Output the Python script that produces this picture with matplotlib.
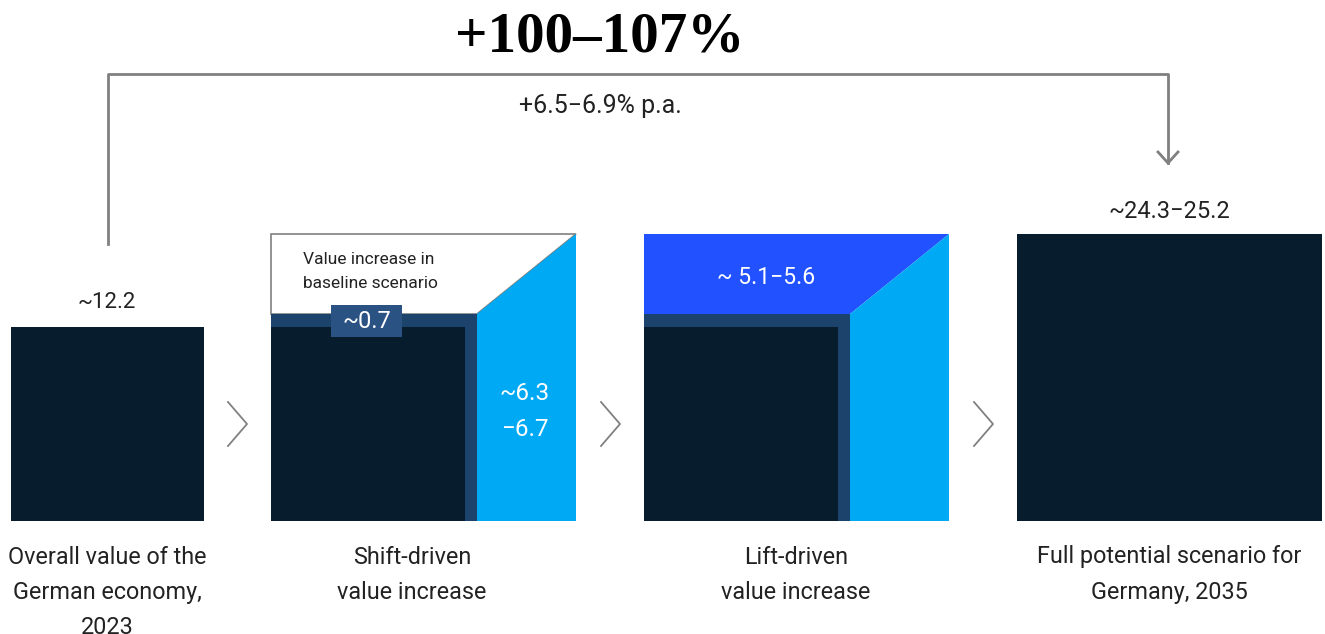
import matplotlib.pyplot as plt
from matplotlib.patches import Rectangle, Polygon

# chart content
value_labels = ['~12.2', '~0.7', '~6.3\n\u22126.7', '~ 5.1\u22125.6', '~24.3\u221225.2']
step_labels = ['Overall value of the\nGerman economy,\n2023',
               'Shift-driven\nvalue increase',
               'Lift-driven\nvalue increase',
               'Full potential scenario for\nGermany, 2035']
baseline_note = 'Value increase in\nbaseline scenario'
title = '+100\u2013107%'
cagr = '+6.5\u22126.9% p.a.'

NAVY = '#071c2c'
BORDER = '#1b436b'
TAG = '#2a5283'
CYAN = '#00a9f4'
ROYAL = '#2251ff'
GRAY = '#808080'
TXT = '#222222'

plt.rcParams['font.family'] = ['Roboto', 'DejaVu Sans']

fig = plt.figure(figsize=(13.25, 6.34), dpi=100)
ax = fig.add_axes([0, 0, 1, 1])
ax.set_xlim(0, 1325)
ax.set_ylim(634, 0)
ax.axis('off')


def lines(x, y, s, step, **kw):
    # one text per line so the spacing is exact in pixels
    for i, ln in enumerate(s.split('\n')):
        ax.text(x, y + i * step, ln, va='center', **kw)


# box 1
ax.add_patch(Rectangle((11, 327), 193, 194, color=NAVY, lw=0))
ax.text(107, 303, value_labels[0], ha='center', va='center', fontsize=16, color=TXT)


def grow_box(x0, top_color, top_edge):
    # upper part (baseline / lift)
    ax.add_patch(Polygon([(x0, 234), (x0 + 305, 234), (x0 + 206, 314), (x0, 314)],
                         closed=True, facecolor=top_color, edgecolor=top_edge, lw=1.2))
    # shift part
    ax.add_patch(Polygon([(x0 + 206, 314), (x0 + 305, 234), (x0 + 305, 521), (x0 + 206, 521)],
                         closed=True, facecolor=CYAN, edgecolor='none'))
    # border around current economy
    ax.add_patch(Rectangle((x0, 314), 206, 207, color=BORDER, lw=0))
    ax.add_patch(Rectangle((x0, 327), 194, 194, color=NAVY, lw=0))


# box 2
grow_box(271, 'white', GRAY)
lines(303, 260, baseline_note, 24, ha='left', fontsize=12.5, color=TXT)
ax.add_patch(Rectangle((331, 305), 71, 32, color=TAG, lw=0))
ax.text(366.5, 322, value_labels[1], ha='center', va='center', fontsize=17, color='white')
lines(525, 394, value_labels[2], 36, ha='center', fontsize=17.5, color='white')

# box 3
grow_box(644, ROYAL, 'none')
ax.text(766, 277, value_labels[3], ha='center', va='center', fontsize=16.5, color='white')

# box 4
ax.add_patch(Rectangle((1017, 234), 305, 287, color=NAVY, lw=0))
ax.text(1169, 212, value_labels[4], ha='center', va='center', fontsize=17, color=TXT)

# chevrons
for cx in [228, 601, 974]:
    ax.plot([cx, cx + 19, cx], [402, 424, 446], color=GRAY, lw=1.3)

# step labels
for xc, lab in zip([107, 412, 796, 1169], step_labels):
    lines(xc, 557, lab, 35.5, ha='center', fontsize=16.8, color=TXT)

# bracket with arrow
ax.plot([108, 108, 1168, 1168], [244, 74, 74, 163], color=GRAY, lw=2)
ax.plot([1158, 1168, 1178], [152, 163, 152], color=GRAY, lw=2)

ax.text(600, 38, title, ha='center', va='center', fontsize=41, fontweight='bold',
        family=['Liberation Serif', 'DejaVu Serif'], color='black')
ax.text(600, 106, cagr, ha='center', va='center', fontsize=18, color=TXT)

fig.savefig('out.png', dpi=100, facecolor='white')
